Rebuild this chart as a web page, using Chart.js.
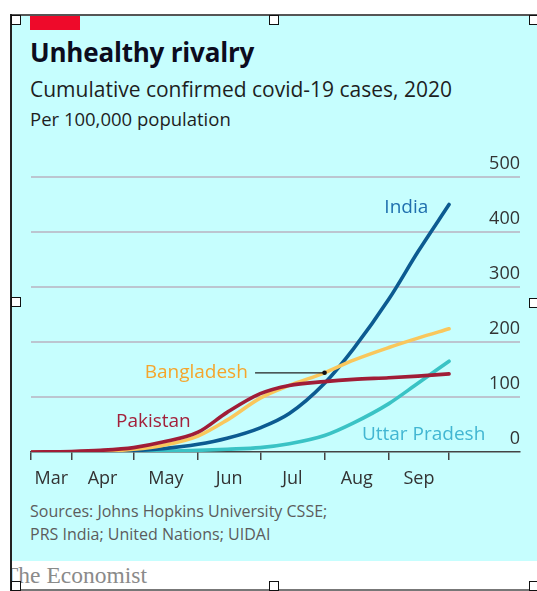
<!DOCTYPE html>
<html><head><meta charset="utf-8">
<script src="https://cdn.jsdelivr.net/npm/chart.js@4"></script>
<style>
html,body{margin:0;padding:0;width:537px;height:591px;overflow:hidden;background:#fff;font-family:"Open Sans",sans-serif;}
#panel{position:absolute;left:11px;top:15px;width:526px;height:546px;background:#c6fefe;}
#red{position:absolute;left:30px;top:15px;width:50px;height:15px;background:#ee0a2a;}
.t{position:absolute;left:30px;white-space:nowrap;}
#title{top:34px;font-size:26px;font-weight:700;color:#0c0c1e;letter-spacing:-0.2px;}
#sub{top:75px;font-size:21px;color:#1e1e1e;}
#per{top:106px;font-size:18.5px;color:#1e1e1e;}
#src{top:500px;font-size:16px;line-height:23px;color:#5c5c5c;}
#ecoClip{position:absolute;left:11px;top:560px;width:200px;height:30px;overflow:hidden;}
#eco{position:absolute;left:-7px;top:2px;white-space:nowrap;font-family:"Liberation Serif","DejaVu Serif",serif;font-size:23.5px;color:#8a8a8a;}
#wrap{position:absolute;left:0;top:0;width:537px;height:591px;}
.bl{position:absolute;background:#2a2a2a;}
.h{position:absolute;width:8px;height:8px;background:#fff;border:1.5px solid #111;}
</style></head>
<body>
<div id="panel"></div>
<div id="red"></div>
<div class="t" id="title">Unhealthy rivalry</div>
<div class="t" id="sub">Cumulative confirmed covid-19 cases, 2020</div>
<div class="t" id="per">Per 100,000 population</div>
<div class="t" id="src">Sources: Johns Hopkins University CSSE;<br>PRS India; United Nations; UIDAI</div>
<div id="ecoClip"><div id="eco">The Economist</div></div>
<div id="wrap"><canvas id="c"></canvas></div>
<div class="bl" style="left:10px;top:14px;width:527px;height:1.5px;background:#555"></div>
<div class="bl" style="left:10px;top:589px;width:527px;height:1.5px;background:#777"></div>
<div class="bl" style="left:9.5px;top:14px;width:2px;height:577px;background:#222"></div>
<div class="h" style="left:11px;top:15px"></div>
<div class="h" style="left:269px;top:15px"></div>
<div class="h" style="left:529px;top:15px"></div>
<div class="h" style="left:11px;top:297px"></div>
<div class="h" style="left:529px;top:298px"></div>
<div class="h" style="left:11px;top:581px"></div>
<div class="h" style="left:269px;top:581px"></div>
<div class="h" style="left:529px;top:581px"></div>
<script>
// Days since 1 March 2020
const days        = [11.5, 31, 45, 61, 75, 92, 106, 122, 136, 153, 167, 184, 198, 213];
const india       = [0, 0.1, 0.9, 2.5, 6, 14, 25, 44, 70, 125, 188, 278, 364, 450];
const bangladesh  = [0, 0, 1, 5, 12, 29, 58, 98, 121, 144, 167, 190, 207, 224];
const pakistan    = [0, 1, 3, 8, 18, 36, 72, 106, 121, 128, 132, 135, 138, 142];
const uttarPradesh= [0, 0, 0, 0.5, 1, 3, 5, 8, 15, 30, 53, 88, 125, 165];
const monthTicks  = [11.5, 31, 61, 92, 122, 153, 184, 213];
const monthLabelAt= [21.25, 46, 76.5, 107, 137.5, 168.5, 198.5];
const monthLabels = ['Mar','Apr','May','Jun','Jul','Aug','Sep'];
const yTicks      = [0, 100, 200, 300, 400, 500];
const seriesNames = ['Pakistan','Bangladesh','India','Uttar Pradesh'];

const pts = arr => days.map((d,i)=>({x:d, y:arr[i]}));
const font = 'Open Sans';

const labelPlugin = {
  id:'seriesLabels',
  afterDatasetsDraw(chart){
    const {ctx, scales:{x,y}} = chart;
    ctx.save();
    ctx.font = '19px "'+font+'"';
    ctx.textBaseline = 'middle';
    const L = [
      {t:seriesNames[2], dx:203, vy:445, align:'right', c:'#1f6fae'},
      {t:seriesNames[1], dx:116, vy:145, align:'right', c:'#f5a52c'},
      {t:seriesNames[0], dx:88.5, vy:56, align:'right', c:'#a3213b'},
      {t:seriesNames[3], dx:171, vy:31, align:'left', c:'#42b6d2'}
    ];
    L.forEach(l=>{ctx.fillStyle=l.c;ctx.textAlign=l.align;ctx.fillText(l.t,x.getPixelForValue(l.dx),y.getPixelForValue(l.vy));});
    // leader line for Bangladesh
    const i = days.indexOf(153);
    const px = x.getPixelForValue(days[i]), py = y.getPixelForValue(bangladesh[i]);
    ctx.strokeStyle='#222';ctx.lineWidth=1.3;
    ctx.beginPath();ctx.moveTo(x.getPixelForValue(119.5),py);ctx.lineTo(px,py);ctx.stroke();
    ctx.fillStyle='#111';ctx.beginPath();ctx.arc(px,py,2.3,0,Math.PI*2);ctx.fill();
    ctx.restore();
  }
};

const ds = (label,data,color)=>({label,data:pts(data),borderColor:color,borderWidth:3.6,pointRadius:0,
  tension:0.4,cubicInterpolationMode:'monotone',fill:false,xAxisID:'x',yAxisID:'y',borderCapStyle:'round'});

new Chart(document.getElementById('c'),{
  type:'line',
  data:{datasets:[
    ds(seriesNames[0],pakistan,'#a01d37'),
    ds(seriesNames[1],bangladesh,'#f9c75c'),
    ds(seriesNames[2],india,'#0c5b91'),
    ds(seriesNames[3],uttarPradesh,'#3ac3c5')
  ]},
  options:{
    responsive:true,maintainAspectRatio:false,animation:false,
    layout:{padding:{left:31,right:17,top:177,bottom:99}},
    plugins:{legend:{display:false},tooltip:{enabled:false}},
    scales:{
      x:{type:'linear',min:11.5,max:247.2,position:'bottom',
        afterBuildTicks:s=>{s.ticks=monthTicks.map(v=>({value:v}));},
        afterFit:s=>{s.height=10;},
        grid:{drawOnChartArea:false,drawTicks:true,tickLength:8,color:'#444',lineWidth:1.5},
        border:{display:true,color:'#444',width:1.5},
        ticks:{callback:()=>'',padding:0}},
      xl:{type:'linear',min:11.5,max:247.2,position:'bottom',
        afterBuildTicks:s=>{s.ticks=monthLabelAt.map(v=>({value:v}));},
        afterFit:s=>{s.height=30;},
        grid:{display:false,drawTicks:false},border:{display:false},
        ticks:{autoSkip:false,maxRotation:0,padding:6,color:'#333',font:{size:18,family:font},
          callback:(v,i)=>monthLabels[i]}},
      y:{position:'right',min:0,max:500,
        afterBuildTicks:s=>{s.ticks=yTicks.map(v=>({value:v}));},
        afterFit:s=>{s.width=0;},
        grid:{color:c=>c.tick&&c.tick.value===0?'rgba(0,0,0,0)':'#bcc5d0',lineWidth:2,drawTicks:false},
        border:{display:false},
        ticks:{mirror:true,padding:0,labelOffset:-13,color:'#333',font:{size:18,family:font}}}
    }
  },
  plugins:[labelPlugin]
});
</script>
</body></html>
